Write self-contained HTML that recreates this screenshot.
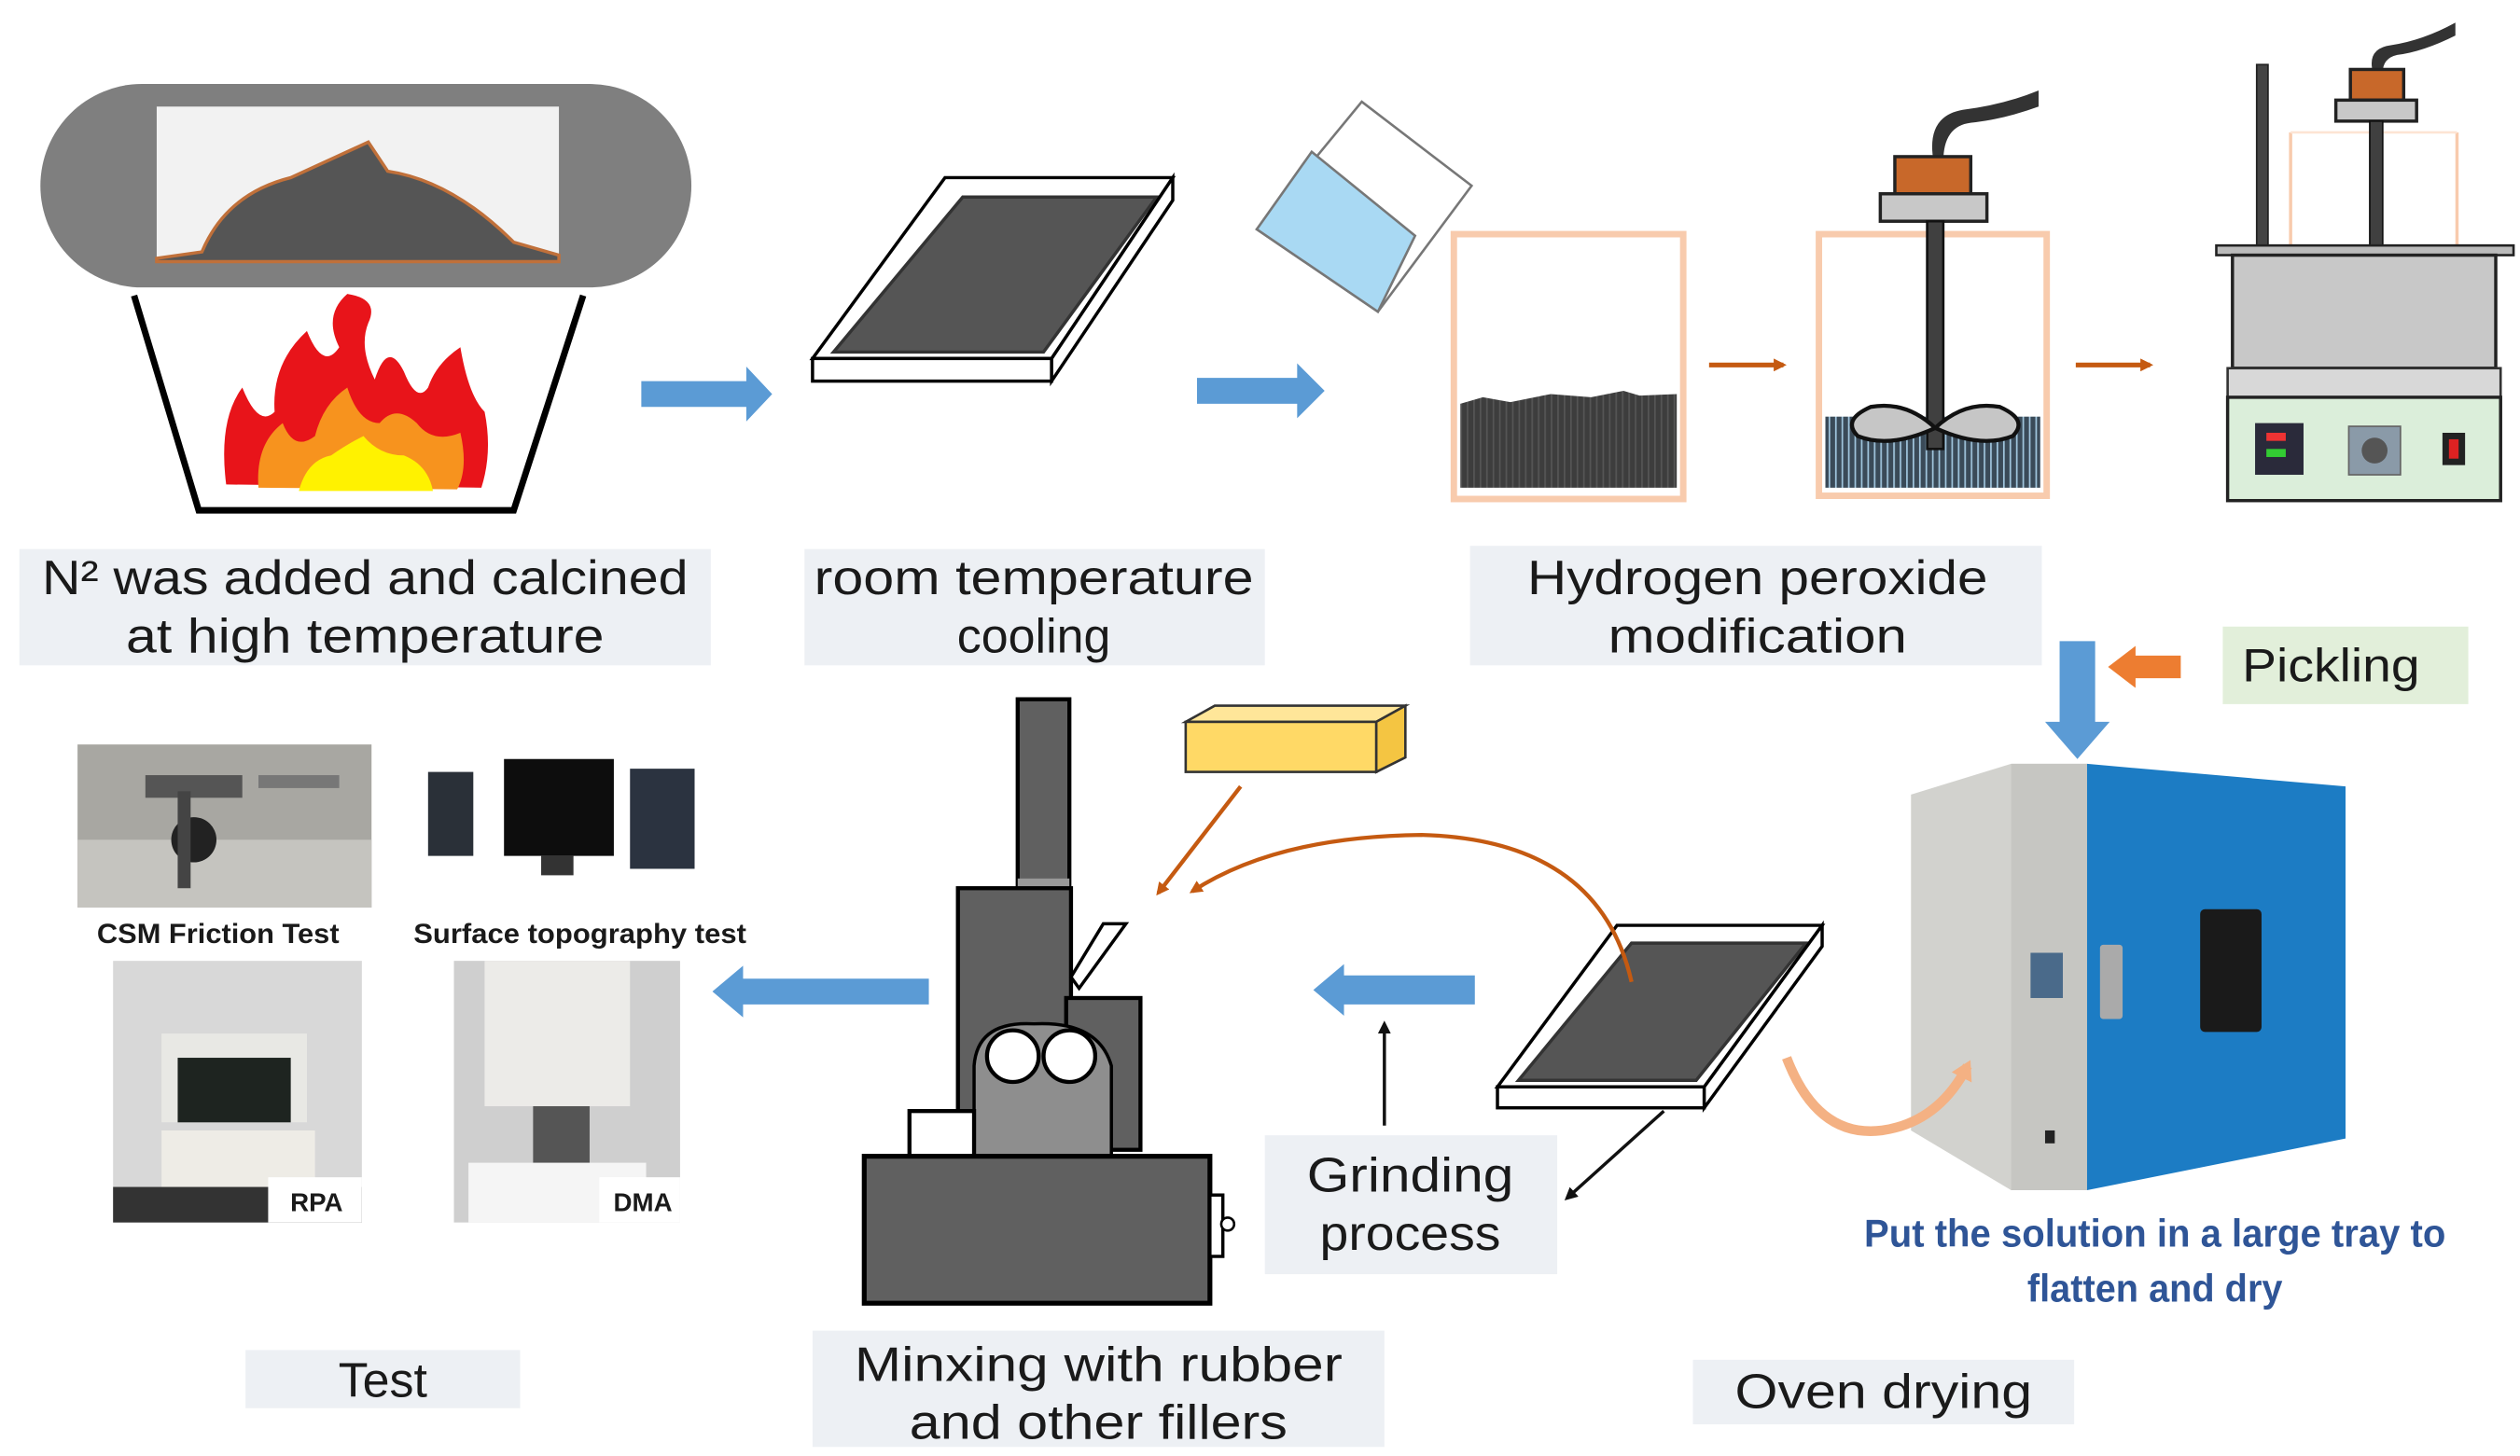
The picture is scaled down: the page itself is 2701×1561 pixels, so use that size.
<!DOCTYPE html>
<html><head><meta charset="utf-8"><style>
html,body{margin:0;padding:0;background:#fff;}
svg{display:block;}
text{font-family:"Liberation Sans",sans-serif;fill:#1a1a1a;}
</style></head><body>
<svg width="2701" height="1561" viewBox="0 0 1560 901.6" preserveAspectRatio="none" xmlns="http://www.w3.org/2000/svg">
<defs>
<marker id="ao" markerWidth="8" markerHeight="8" refX="6" refY="4" orient="auto" markerUnits="userSpaceOnUse"><path d="M0,0 L8,4 L0,8 Z" fill="#c55a11"/></marker>
<marker id="ab" markerWidth="8" markerHeight="8" refX="6" refY="4" orient="auto" markerUnits="userSpaceOnUse"><path d="M0,0 L8,4 L0,8 Z" fill="#111"/></marker>
<marker id="ap" markerWidth="14" markerHeight="14" refX="8" refY="7" orient="auto" markerUnits="userSpaceOnUse"><path d="M0,0 L12,7 L0,14 Z" fill="#f4b183"/></marker>
<pattern id="grid" width="4" height="4" patternUnits="userSpaceOnUse"><rect width="4" height="4" fill="#3d3d3d"/><rect width="1" height="4" fill="#555"/></pattern>
<pattern id="grid2" width="4" height="4" patternUnits="userSpaceOnUse"><rect width="4" height="4" fill="#3a4a58"/><rect width="1" height="4" fill="#9fc4dc"/></pattern>
</defs>

<!-- Furnace -->
<rect x="25" y="52" width="403" height="126" rx="63" fill="#7f7f7f"/>
<rect x="97" y="66" width="249" height="96" fill="#f2f2f2"/>
<path d="M97,160 L125,156 Q140,120 180,110 L228,88 L240,106 Q280,112 318,150 L346,158 L346,162 L97,162 Z" fill="#555" stroke="#c0703a" stroke-width="2"/>
<polyline points="83,183 123,316 318,316 361,183" fill="none" stroke="#000" stroke-width="4"/>
<!-- flame -->
<path d="M140,300 Q135,260 150,240 Q160,265 170,255 Q168,225 190,205 Q200,230 210,215 Q200,195 215,182 Q235,185 228,200 Q222,215 232,235 Q240,210 250,230 Q258,250 265,240 Q270,225 285,215 Q290,245 300,255 Q305,280 298,302 Z" fill="#e8141a"/>
<path d="M160,302 Q158,275 175,262 Q182,280 195,270 Q200,250 215,240 Q222,262 235,262 Q245,250 258,262 Q268,275 285,268 Q290,290 283,303 Z" fill="#f7931e"/>
<path d="M185,304 Q190,285 205,282 Q215,275 225,270 Q235,282 250,282 Q265,288 268,304 Z" fill="#fff200"/>

<!-- label 1 -->
<rect x="12" y="340" width="428" height="72" fill="#edf0f4"/>
<text x="226" y="368" font-size="30" text-anchor="middle" textLength="400" lengthAdjust="spacingAndGlyphs">N² was added and calcined</text>
<text x="226" y="404" font-size="30" text-anchor="middle" textLength="296" lengthAdjust="spacingAndGlyphs">at high temperature</text>

<!-- blue arrow 1 -->
<path d="M397,236 L462,236 L462,227 L478,244 L462,261 L462,252 L397,252 Z" fill="#5b9bd5"/>

<!-- tray 1 -->
<polygon points="585,110 726,110 651,222 503,222" fill="#fff" stroke="#000" stroke-width="2"/>
<polygon points="596,122 716,122 646,218 516,218" fill="#555" stroke="#333" stroke-width="2"/>
<rect x="503" y="222" width="148" height="14" fill="#fff" stroke="#000" stroke-width="2"/>
<polygon points="651,222 726,110 726,124 651,236" fill="#fff" stroke="#000" stroke-width="2"/>

<!-- label 2 -->
<rect x="498" y="340" width="285" height="72" fill="#edf0f4"/>
<text x="640" y="368" font-size="30" text-anchor="middle" textLength="272" lengthAdjust="spacingAndGlyphs">room temperature</text>
<text x="640" y="404" font-size="30" text-anchor="middle">cooling</text>

<!-- blue arrow 2 -->
<path d="M741,234 L803,234 L803,225 L820,242 L803,259 L803,250 L741,250 Z" fill="#5b9bd5"/>

<!-- pouring beaker -->
<polygon points="843,63 911,115 853,193 778,142" fill="#fff" stroke="#777" stroke-width="1.5"/>
<polygon points="812,94 876,146 853,193 778,142" fill="#a9d9f3" stroke="#777" stroke-width="1.5"/>

<!-- beaker 1 -->
<rect x="900" y="145" width="142" height="164" fill="#fff" stroke="#f8cbad" stroke-width="4"/>
<path d="M904,250 L918,246 L935,249 L960,244 L985,246 L1005,242 L1015,245 L1038,244 L1038,302 L904,302 Z" fill="url(#grid)"/>
<line x1="1058" y1="226" x2="1104" y2="226" stroke="#c55a11" stroke-width="3" marker-end="url(#ao)"/>

<!-- beaker 2 with stirrer -->
<rect x="1126" y="145" width="141" height="162" fill="#fff" stroke="#f8cbad" stroke-width="4"/>
<rect x="1130" y="258" width="133" height="44" fill="url(#grid2)"/>
<path d="M1197,100 Q1192,72 1215,68 Q1240,65 1262,56 L1262,66 Q1240,74 1220,76 Q1203,78 1203,100 Z" fill="#333"/>
<rect x="1173" y="97" width="47" height="23" fill="#c8682a" stroke="#222" stroke-width="2"/>
<rect x="1164" y="120" width="66" height="17" fill="#c8c8c8" stroke="#222" stroke-width="2"/>
<rect x="1193" y="137" width="10" height="141" fill="#404040" stroke="#111" stroke-width="1.5"/>
<path d="M1198,265 Q1180,248 1158,252 Q1140,260 1150,270 Q1170,278 1198,265 Z" fill="#c6c6c6" stroke="#111" stroke-width="2.5"/>
<path d="M1198,265 Q1216,248 1238,252 Q1256,260 1246,270 Q1226,278 1198,265 Z" fill="#c6c6c6" stroke="#111" stroke-width="2.5"/>
<line x1="1285" y1="226" x2="1331" y2="226" stroke="#c55a11" stroke-width="3" marker-end="url(#ao)"/>

<!-- hotplate -->
<rect x="1397" y="40" width="7" height="115" fill="#444" stroke="#222"/>
<line x1="1418" y1="82" x2="1418" y2="152" stroke="#f8cbad" stroke-width="2"/>
<line x1="1521" y1="82" x2="1521" y2="152" stroke="#f8cbad" stroke-width="2"/>
<line x1="1418" y1="82" x2="1521" y2="82" stroke="#fde4d4" stroke-width="1.5"/>
<path d="M1469,45 Q1465,30 1480,28 Q1500,25 1520,14 L1520,22 Q1500,32 1484,34 Q1475,36 1475,45 Z" fill="#333"/>
<rect x="1455" y="43" width="33" height="19" fill="#c8682a" stroke="#222" stroke-width="2"/>
<rect x="1446" y="62" width="50" height="13" fill="#c8c8c8" stroke="#222" stroke-width="2"/>
<rect x="1467" y="75" width="8" height="78" fill="#404040" stroke="#111"/>
<rect x="1372" y="152" width="184" height="6" fill="#bbb" stroke="#222" stroke-width="1.5"/>
<rect x="1382" y="158" width="163" height="70" fill="#c8c8c8" stroke="#222" stroke-width="2"/>
<rect x="1379" y="228" width="169" height="18" fill="#d8d8d8" stroke="#333" stroke-width="1.5"/>
<rect x="1379" y="246" width="169" height="64" fill="#dbeeda" stroke="#222" stroke-width="2"/>
<rect x="1396" y="262" width="30" height="32" fill="#2a2a3a"/>
<rect x="1403" y="268" width="12" height="5" fill="#e33"/><rect x="1403" y="278" width="12" height="5" fill="#3c3"/>
<rect x="1454" y="264" width="32" height="30" fill="#8a9aa8" stroke="#666"/>
<circle cx="1470" cy="279" r="8" fill="#555"/>
<rect x="1512" y="268" width="14" height="20" fill="#222"/><rect x="1516" y="272" width="6" height="12" fill="#d22"/>

<!-- label 3 -->
<rect x="910" y="338" width="354" height="74" fill="#edf0f4"/>
<text x="1088" y="368" font-size="30" text-anchor="middle" textLength="285" lengthAdjust="spacingAndGlyphs">Hydrogen peroxide</text>
<text x="1088" y="404" font-size="30" text-anchor="middle" textLength="185" lengthAdjust="spacingAndGlyphs">modification</text>

<!-- down blue arrow & pickling -->
<path d="M1275,397 L1297,397 L1297,447 L1306,447 L1286,470 L1266,447 L1275,447 Z" fill="#5b9bd5"/>
<path d="M1350,406 L1322,406 L1322,400 L1305,413 L1322,426 L1322,420 L1350,420 Z" fill="#ed7d31"/>
<rect x="1376" y="388" width="152" height="48" fill="#e2efda"/>
<text x="1443" y="422" font-size="29" text-anchor="middle" textLength="110" lengthAdjust="spacingAndGlyphs">Pickling</text>

<!-- oven -->
<polygon points="1183,492 1245,473 1292,473 1292,737 1245,737 1183,700" fill="#d2d2ce"/>
<polygon points="1245,473 1292,473 1292,737 1245,737" fill="#c6c6c2"/>
<polygon points="1292,473 1452,487 1452,705 1292,737" fill="#1c7cc4"/>
<rect x="1362" y="563" width="38" height="76" rx="3" fill="#1a1a1a"/>
<rect x="1300" y="585" width="14" height="46" rx="2" fill="#aaa"/>
<rect x="1257" y="590" width="20" height="28" fill="#4a6a8a"/>
<rect x="1266" y="700" width="6" height="8" fill="#222"/>
<path d="M1106,655 Q1125,705 1165,700 Q1200,695 1218,660" fill="none" stroke="#f4b183" stroke-width="6" marker-end="url(#ap)"/>
<text x="1334" y="772" font-size="24" text-anchor="middle" font-weight="bold" style="fill:#2f5597" textLength="360" lengthAdjust="spacingAndGlyphs">Put the solution in a large tray to</text>
<text x="1334" y="806" font-size="24" text-anchor="middle" font-weight="bold" style="fill:#2f5597" textLength="158" lengthAdjust="spacingAndGlyphs">flatten and dry</text>
<rect x="1048" y="842" width="236" height="40" fill="#edf0f4"/>
<text x="1166" y="872" font-size="30" text-anchor="middle" textLength="184" lengthAdjust="spacingAndGlyphs">Oven drying</text>

<!-- tray 2 -->
<polygon points="1001,573 1128,573 1055,673 927,673" fill="#fff" stroke="#000" stroke-width="2"/>
<polygon points="1010,584 1118,584 1050,669 940,669" fill="#555" stroke="#333" stroke-width="2"/>
<rect x="927" y="673" width="128" height="13" fill="#fff" stroke="#000" stroke-width="2"/>
<polygon points="1055,673 1128,573 1128,586 1055,686" fill="#fff" stroke="#000" stroke-width="2"/>
<line x1="1030" y1="688" x2="970" y2="742" stroke="#111" stroke-width="2" marker-end="url(#ab)"/>

<!-- grinding -->
<rect x="783" y="703" width="181" height="86" fill="#edf0f4"/>
<text x="873" y="738" font-size="30" text-anchor="middle" textLength="128" lengthAdjust="spacingAndGlyphs">Grinding</text>
<text x="873" y="774" font-size="30" text-anchor="middle" textLength="112" lengthAdjust="spacingAndGlyphs">process</text>
<line x1="857" y1="697" x2="857" y2="634" stroke="#111" stroke-width="2" marker-end="url(#ab)"/>
<path d="M913,604 L832,604 L832,597 L813,613 L832,629 L832,622 L913,622 Z" fill="#5b9bd5"/>

<!-- orange curves & block -->
<path d="M1010,608 Q990,520 880,517 Q790,518 738,552" fill="none" stroke="#c55a11" stroke-width="2.5" marker-end="url(#ao)"/>
<line x1="768" y1="487" x2="717" y2="553" stroke="#c55a11" stroke-width="2.5" marker-end="url(#ao)"/>
<polygon points="734,447 752,437 870,437 852,447" fill="#ffe699" stroke="#333" stroke-width="1.5"/>
<rect x="734" y="447" width="118" height="31" fill="#ffd966" stroke="#333" stroke-width="1.5"/>
<polygon points="852,447 870,437 870,469 852,478" fill="#f4c542" stroke="#333" stroke-width="1.5"/>

<!-- mixer -->
<rect x="630" y="433" width="32" height="117" fill="#606060" stroke="#000" stroke-width="2.5"/>
<rect x="630" y="544" width="32" height="6" fill="#999"/>
<rect x="593" y="550" width="70" height="166" fill="#606060" stroke="#000" stroke-width="2.5"/>
<rect x="660" y="618" width="46" height="94" fill="#606060" stroke="#000" stroke-width="2.5"/>
<polygon points="663,605 683,572 697,572 668,612" fill="#fff" stroke="#000" stroke-width="2"/>
<path d="M603,716 L603,660 Q605,632 640,634 Q680,632 688,660 L688,716 Z" fill="#8e8e8e" stroke="#000" stroke-width="2"/>
<circle cx="627" cy="654" r="16" fill="#fff" stroke="#000" stroke-width="2.5"/>
<circle cx="662" cy="654" r="16" fill="#fff" stroke="#000" stroke-width="2.5"/>
<rect x="563" y="688" width="40" height="28" fill="#fff" stroke="#000" stroke-width="2.5"/>
<rect x="535" y="716" width="214" height="91" fill="#606060" stroke="#000" stroke-width="3"/>
<rect x="749" y="740" width="8" height="38" fill="#fff" stroke="#000" stroke-width="2"/>
<circle cx="760" cy="758" r="4" fill="#fff" stroke="#000" stroke-width="1.5"/>

<!-- mixing label -->
<rect x="503" y="824" width="354" height="72" fill="#edf0f4"/>
<text x="680" y="855" font-size="30" text-anchor="middle" textLength="302" lengthAdjust="spacingAndGlyphs">Minxing with rubber</text>
<text x="680" y="891" font-size="30" text-anchor="middle" textLength="234" lengthAdjust="spacingAndGlyphs">and other fillers</text>

<!-- blue left arrow -->
<path d="M575,606 L460,606 L460,598 L441,614 L460,630 L460,622 L575,622 Z" fill="#5b9bd5"/>

<!-- photos -->
<rect x="48" y="461" width="182" height="101" fill="#a8a7a2"/>
<rect x="48" y="520" width="182" height="42" fill="#c5c4bf"/>
<rect x="90" y="480" width="60" height="14" fill="#555"/>
<circle cx="120" cy="520" r="14" fill="#222"/>
<rect x="110" y="490" width="8" height="60" fill="#444"/>
<rect x="160" y="480" width="50" height="8" fill="#777"/>
<rect x="255" y="461" width="180" height="100" fill="#fff"/>
<rect x="265" y="478" width="28" height="52" fill="#2a3038"/>
<rect x="312" y="470" width="68" height="60" fill="#0d0d0d"/>
<rect x="335" y="530" width="20" height="12" fill="#333"/>
<rect x="390" y="476" width="40" height="62" fill="#2b3340"/>
<rect x="70" y="595" width="154" height="162" fill="#d8d8d8"/>
<rect x="100" y="640" width="90" height="55" fill="#e8e8e4"/>
<rect x="110" y="655" width="70" height="40" fill="#1e2420"/>
<rect x="100" y="700" width="95" height="35" fill="#eeece6"/>
<rect x="70" y="735" width="154" height="22" fill="#333"/>
<rect x="166" y="729" width="58" height="28" fill="#fff"/>
<text x="196" y="750" font-size="16" font-weight="bold" text-anchor="middle">RPA</text>
<rect x="281" y="595" width="140" height="162" fill="#cfcfcf"/>
<rect x="300" y="595" width="90" height="90" fill="#ecebe8"/>
<rect x="330" y="685" width="35" height="40" fill="#555"/>
<rect x="290" y="720" width="110" height="37" fill="#f5f5f5"/>
<rect x="371" y="729" width="50" height="28" fill="#fff"/>
<text x="398" y="750" font-size="16" font-weight="bold" text-anchor="middle">DMA</text>
<text x="135" y="584" font-size="17" font-weight="bold" text-anchor="middle" textLength="150" lengthAdjust="spacingAndGlyphs">CSM Friction Test</text>
<text x="359" y="584" font-size="17" font-weight="bold" text-anchor="middle" textLength="206" lengthAdjust="spacingAndGlyphs">Surface topography test</text>

<!-- test label -->
<rect x="152" y="836" width="170" height="36" fill="#edf0f4"/>
<text x="237" y="865" font-size="30" text-anchor="middle">Test</text>
</svg>
</body></html>
